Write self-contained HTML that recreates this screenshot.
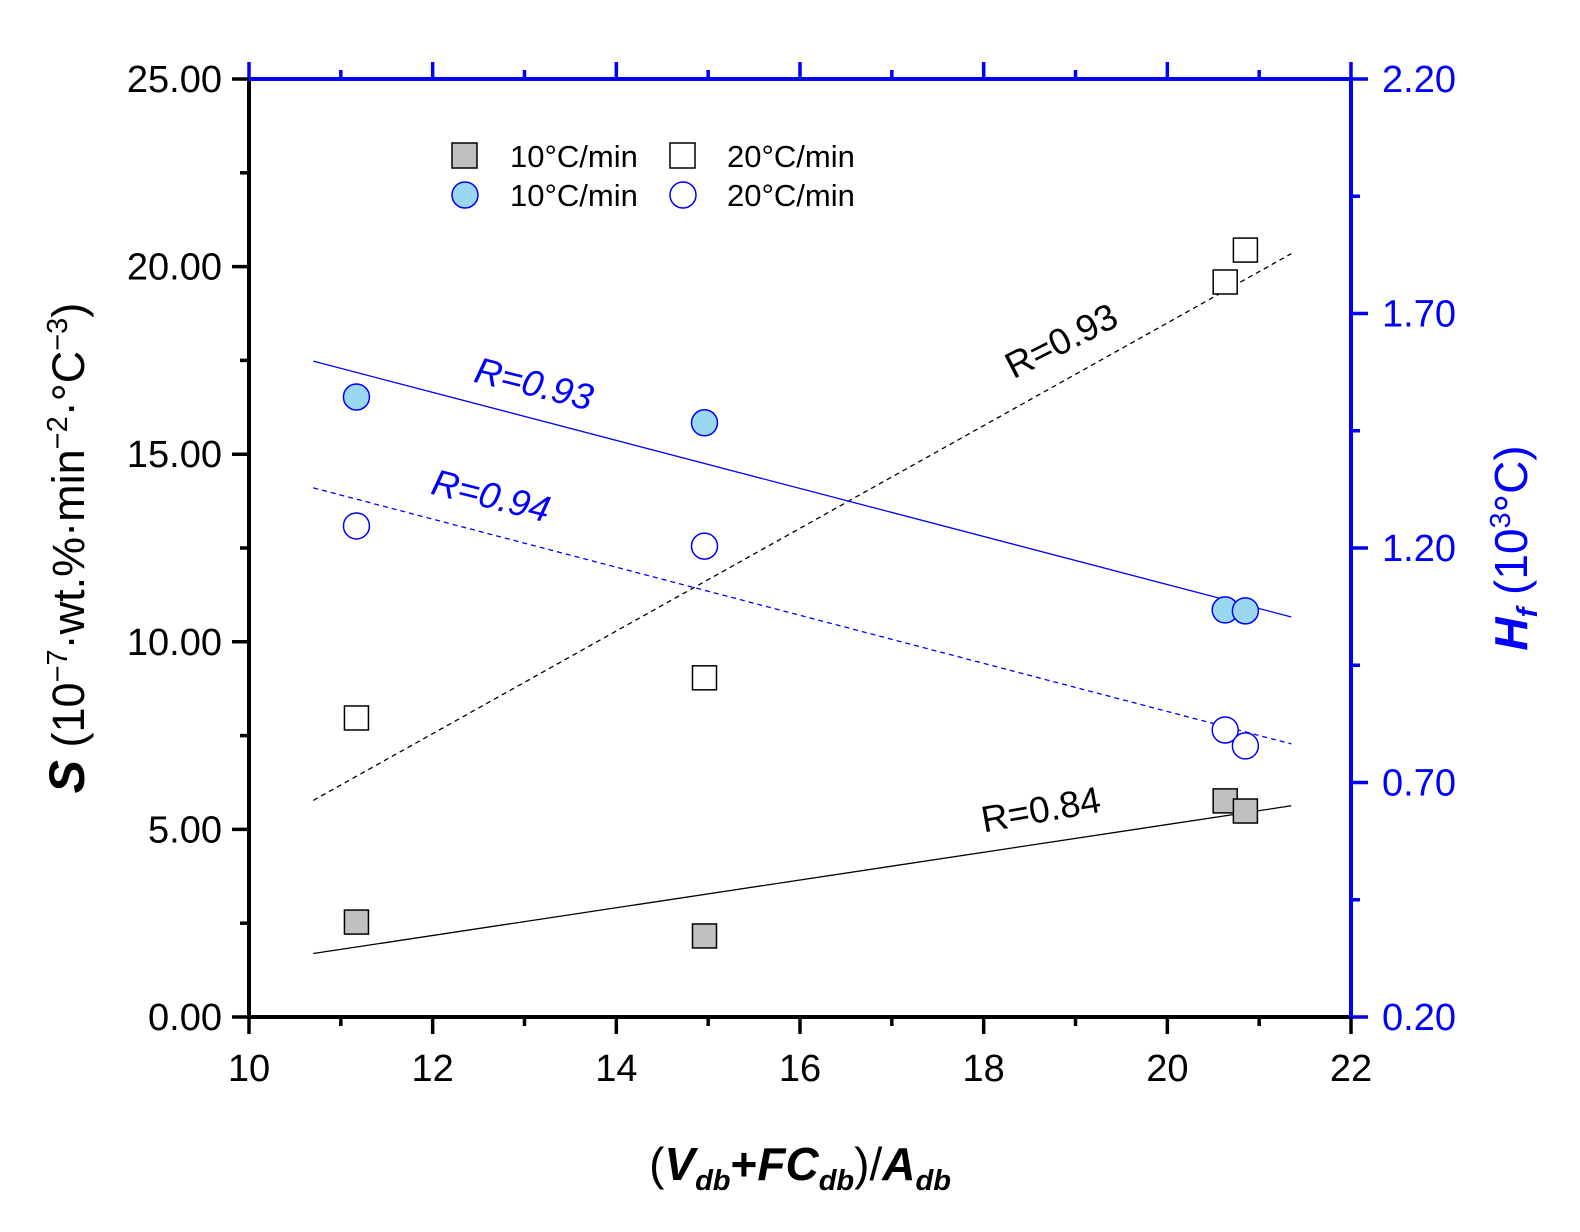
<!DOCTYPE html>
<html><head><meta charset="utf-8"><style>
body{margin:0;background:#fff}
svg{display:block;font-family:"Liberation Sans",Arial,sans-serif}
</style></head><body>
<svg id="c" width="1580" height="1232" viewBox="0 0 1580 1232">
<g id="fits"></g><g id="marks"></g><g id="axes"></g>
<g id="legend" font-size="31">
 <rect x="452" y="143" width="25" height="25" fill="#c0c0c0" stroke="#000" stroke-width="1.5"/>
 <text x="510" y="167">10°C/min</text>
 <rect x="670" y="143" width="25" height="25" fill="#fff" stroke="#000" stroke-width="1.5"/>
 <text x="727" y="167">20°C/min</text>
 <circle cx="465" cy="195" r="13" fill="#99d8f0" stroke="#0000ff" stroke-width="1.5"/>
 <text x="510" y="206">10°C/min</text>
 <circle cx="683" cy="195" r="13" fill="#fff" stroke="#0000ff" stroke-width="1.5"/>
 <text x="727" y="206">20°C/min</text>
</g>
<g font-size="37">
 <text transform="translate(1067,352) rotate(-27)" text-anchor="middle">R=0.93</text>
 <text transform="translate(531,396) rotate(14)" text-anchor="middle" fill="#0000ff" font-style="italic">R=0.93</text>
 <text transform="translate(488,508) rotate(14)" text-anchor="middle" fill="#0000ff" font-style="italic">R=0.94</text>
 <text transform="translate(1043,822) rotate(-10)" text-anchor="middle">R=0.84</text>
</g>
<text x="800" y="1180" text-anchor="middle" font-size="46">(<tspan font-weight="bold" font-style="italic">V</tspan><tspan font-size="29" dy="10" font-weight="bold" font-style="italic">db</tspan><tspan dy="-10" font-weight="bold">+</tspan><tspan font-weight="bold" font-style="italic">FC</tspan><tspan font-size="29" dy="10" font-weight="bold" font-style="italic">db</tspan><tspan dy="-10">)/</tspan><tspan font-weight="bold" font-style="italic">A</tspan><tspan font-size="29" dy="10" font-weight="bold" font-style="italic">db</tspan></text>
<text transform="translate(84,548) rotate(-90)" text-anchor="middle" font-size="45"><tspan font-weight="bold" font-style="italic" font-size="50">S</tspan> (10<tspan font-size="29" dy="-17">−7</tspan><tspan dy="17">·wt.%·min</tspan><tspan font-size="29" dy="-17">−2</tspan><tspan dy="17">·°C</tspan><tspan font-size="29" dy="-17">−3</tspan><tspan dy="17">)</tspan></text>
<text transform="translate(1527,548) rotate(-90)" text-anchor="middle" font-size="46" fill="#0000ff"><tspan font-weight="bold" font-style="italic">H</tspan><tspan font-size="29" dy="10" font-weight="bold" font-style="italic">f</tspan><tspan dy="-10"> (10</tspan><tspan font-size="29" dy="-17">3</tspan><tspan dy="17">°C)</tspan></text>
</svg>
<script>
const xVals=[11.17,14.96,20.63,20.85];
const s10=[2.53,2.16,5.76,5.49];
const s20=[7.97,9.04,19.59,20.44];
const h10=[1.522,1.467,1.068,1.066];
const h20=[1.247,1.204,0.812,0.778];
const xTicks=[10,12,14,16,18,20,22];
const yTicksL=["0.00","5.00","10.00","15.00","20.00","25.00"];
const yTicksR=["0.20","0.70","1.20","1.70","2.20"];
const fitRange=[10.7,21.35];

const L=249,R=1351,T=79,B=1017;
const X=v=>L+(v-10)/12*(R-L);
const YL=v=>B-v/25*(B-T);
const YR=v=>B-(v-0.2)/2*(B-T);
const NS="http://www.w3.org/2000/svg";
function mk(tag,attrs,parent){const e=document.createElementNS(NS,tag);for(const k in attrs)e.setAttribute(k,attrs[k]);parent.appendChild(e);return e;}
const axes=document.getElementById('axes'),marks=document.getElementById('marks'),fits=document.getElementById('fits');

function fit(ys){const n=ys.length;const mx=xVals.reduce((a,b)=>a+b)/n,my=ys.reduce((a,b)=>a+b)/n;let sxy=0,sxx=0;for(let i=0;i<n;i++){sxy+=(xVals[i]-mx)*(ys[i]-my);sxx+=(xVals[i]-mx)**2;}const m=sxy/sxx;return x=>my+m*(x-mx);}
const fitDefs=[[s10,YL,'#000','','fit-line-s10'],[s20,YL,'#000','5,4','fit-line-s20'],[h10,YR,'#0000ff','','fit-line-h10'],[h20,YR,'#0000ff','5,4','fit-line-h20']];
fitDefs.forEach(([ys,Y,col,da,nm])=>{const f=fit(ys);const ln=mk('line',{x1:X(fitRange[0]),y1:Y(f(fitRange[0])),x2:X(fitRange[1]),y2:Y(f(fitRange[1])),stroke:col,'stroke-width':1.3,'stroke-dasharray':da},fits);

});

function sq(ys,fill,nm){ys.forEach((v,i)=>{const r=mk('rect',{x:X(xVals[i])-12,y:YL(v)-12,width:24,height:24,fill:fill,stroke:'#000','stroke-width':1.5},marks);

});}
function ci(ys,fill,nm){ys.forEach((v,i)=>{const c=mk('circle',{cx:X(xVals[i]),cy:YR(v),r:13,fill:fill,stroke:'#0000ff','stroke-width':1.5},marks);

});}
sq(s10,'#c0c0c0','point-s10');sq(s20,'#fff','point-s20');ci(h10,'#99d8f0','point-h10');ci(h20,'#fff','point-h20');

[[L,T,L,B+2,'#000','left-axis'],[L-2,B,R,B,'#000','bottom-axis'],[L-2,T,R+2,T,'#0000ff','top-axis'],[R,T-2,R,B+2,'#0000ff','right-axis']].forEach(a=>{const l=mk('line',{x1:a[0],y1:a[1],x2:a[2],y2:a[3],stroke:a[4],'stroke-width':4},axes);

});
for(let v=10;v<=22;v+=1){const maj=v%2===0,len=maj?17:9;
mk('line',{x1:X(v),y1:B,x2:X(v),y2:B+len,stroke:'#000','stroke-width':3.5},axes);
mk('line',{x1:X(v),y1:T,x2:X(v),y2:T-len,stroke:'#0000ff','stroke-width':3.5},axes);}
xTicks.forEach(v=>{const t=mk('text',{x:X(v),y:B+64,'text-anchor':'middle','font-size':38},axes);t.textContent=v;

});
for(let v=0;v<=25;v+=2.5){const maj=v%5===0;mk('line',{x1:L,y1:YL(v),x2:L-(maj?17:9),y2:YL(v),stroke:'#000','stroke-width':3.5},axes);}
yTicksL.forEach(s=>{const t=mk('text',{x:222,y:YL(parseFloat(s))+13,'text-anchor':'end','font-size':38},axes);t.textContent=s;

});
for(let v=0.2;v<=2.21;v+=0.25){const maj=Math.abs(((v-0.2)/0.5)-Math.round((v-0.2)/0.5))<0.01;mk('line',{x1:R,y1:YR(v),x2:R+(maj?17:9),y2:YR(v),stroke:'#0000ff','stroke-width':3.5},axes);}
yTicksR.forEach(s=>{const t=mk('text',{x:1382,y:YR(parseFloat(s))+13,'font-size':38,fill:'#0000ff'},axes);t.textContent=s;

});
</script>
</body></html>
